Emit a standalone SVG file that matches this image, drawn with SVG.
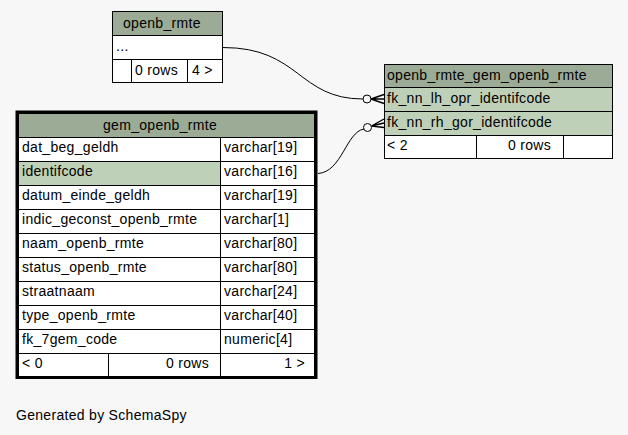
<svg xmlns="http://www.w3.org/2000/svg" width="628" height="435" viewBox="0 0 628 435">
<style>
text{font-family:"Liberation Sans",Arial,sans-serif;font-size:14px;fill:#000;letter-spacing:0.3px}
.hd{fill:#9bab96;stroke:#000;stroke-width:1}
.rw{fill:#ffffff;stroke:#000;stroke-width:1}
.pk{fill:#bed1b8;stroke:#000;stroke-width:1}
.ln{fill:none;stroke:#000;stroke-width:1}
.crow{fill:none;stroke:#000;stroke-width:1.4}
.thick{fill:none;stroke:#000;stroke-width:3}
.m{text-anchor:middle}
.e{text-anchor:end}
</style>
<rect x="0" y="0" width="628" height="435" fill="#f7f7f7"/>

<g id="connectors">
<path class="ln" d="M223,47.5 C300,47.5 298,99 363,99"/>
<circle class="ln" cx="367" cy="99" r="4" fill="#ffffff"/>
<path class="crow" d="M371,99 L384,94.5 M371,99 L384,99 M371,99 L384,103.5"/>
<path class="ln" d="M318,173.5 C342,172 346,132 364,129"/>
<circle class="ln" cx="367.5" cy="127.5" r="4" fill="#ffffff"/>
<path class="crow" d="M371.5,126 L384,119 M371.5,126 L384,123 M371.5,126 L384,127.5"/>
</g>

<g id="openb_rmte">
<rect class="hd" x="112.5" y="11.5" width="110" height="24"/>
<rect class="rw" x="112.5" y="35.5" width="110" height="24"/>
<rect class="rw" x="112.5" y="59.5" width="19" height="23"/>
<rect class="rw" x="131.5" y="59.5" width="56" height="23"/>
<rect class="rw" x="187.5" y="59.5" width="35" height="23"/>
<text x="123" y="28">openb_rmte</text>
<text x="116" y="51">...</text>
<text x="135" y="75">0 rows</text>
<text x="192" y="75">4 &gt;</text>
</g>

<g id="openb_rmte_gem_openb_rmte">
<rect class="hd" x="384.5" y="64.5" width="228" height="23"/>
<rect class="pk" x="384.5" y="87.5" width="228" height="24"/>
<rect class="pk" x="384.5" y="111.5" width="228" height="24"/>
<rect class="rw" x="384.5" y="135.5" width="92" height="23"/>
<rect class="rw" x="476.5" y="135.5" width="87" height="23"/>
<rect class="rw" x="563.5" y="135.5" width="49" height="23"/>
<text x="387" y="80">openb_rmte_gem_openb_rmte</text>
<text x="387" y="103">fk_nn_lh_opr_identifcode</text>
<text x="387" y="127">fk_nn_rh_gor_identifcode</text>
<text x="387" y="150">&lt; 2</text>
<text class="e" x="551" y="150">0 rows</text>
</g>

<g id="gem_openb_rmte">
<rect class="hd" x="18.5" y="113.5" width="296" height="24"/>
<rect class="rw" x="18.5" y="137.5" width="202" height="24"/>
<rect class="rw" x="220.5" y="137.5" width="94" height="24"/>
<rect class="pk" x="18.5" y="161.5" width="202" height="24"/>
<rect class="rw" x="220.5" y="161.5" width="94" height="24"/>
<rect class="rw" x="18.5" y="185.5" width="202" height="24"/>
<rect class="rw" x="220.5" y="185.5" width="94" height="24"/>
<rect class="rw" x="18.5" y="209.5" width="202" height="24"/>
<rect class="rw" x="220.5" y="209.5" width="94" height="24"/>
<rect class="rw" x="18.5" y="233.5" width="202" height="24"/>
<rect class="rw" x="220.5" y="233.5" width="94" height="24"/>
<rect class="rw" x="18.5" y="257.5" width="202" height="24"/>
<rect class="rw" x="220.5" y="257.5" width="94" height="24"/>
<rect class="rw" x="18.5" y="281.5" width="202" height="24"/>
<rect class="rw" x="220.5" y="281.5" width="94" height="24"/>
<rect class="rw" x="18.5" y="305.5" width="202" height="24"/>
<rect class="rw" x="220.5" y="305.5" width="94" height="24"/>
<rect class="rw" x="18.5" y="329.5" width="202" height="24"/>
<rect class="rw" x="220.5" y="329.5" width="94" height="24"/>
<rect class="rw" x="18.5" y="353.5" width="90" height="24"/>
<rect class="rw" x="108.5" y="353.5" width="112" height="24"/>
<rect class="rw" x="220.5" y="353.5" width="94" height="24"/>
<rect class="thick" x="17" y="112" width="299" height="265.5"/>
<text class="m" x="160" y="130">gem_openb_rmte</text>
<text x="22" y="152">dat_beg_geldh</text>
<text x="224" y="152">varchar[19]</text>
<text x="22" y="176">identifcode</text>
<text x="224" y="176">varchar[16]</text>
<text x="22" y="200">datum_einde_geldh</text>
<text x="224" y="200">varchar[19]</text>
<text x="22" y="224">indic_geconst_openb_rmte</text>
<text x="224" y="224">varchar[1]</text>
<text x="22" y="248">naam_openb_rmte</text>
<text x="224" y="248">varchar[80]</text>
<text x="22" y="272">status_openb_rmte</text>
<text x="224" y="272">varchar[80]</text>
<text x="22" y="296">straatnaam</text>
<text x="224" y="296">varchar[24]</text>
<text x="22" y="320">type_openb_rmte</text>
<text x="224" y="320">varchar[40]</text>
<text x="22" y="344">fk_7gem_code</text>
<text x="224" y="344">numeric[4]</text>
<text x="22" y="368">&lt; 0</text>
<text class="e" x="209" y="368">0 rows</text>
<text class="e" x="305" y="368">1 &gt;</text>
</g>

<text x="16" y="420">Generated by SchemaSpy</text>
</svg>
